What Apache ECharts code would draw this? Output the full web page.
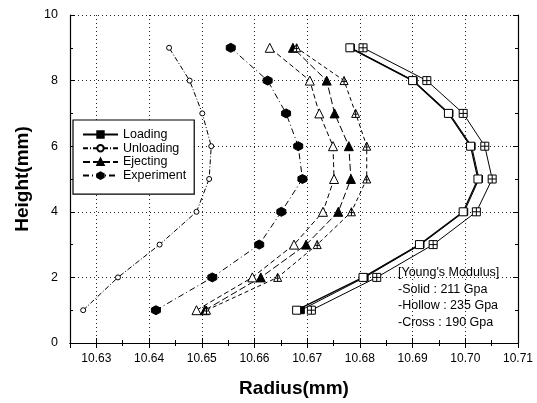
<!DOCTYPE html>
<html>
<head>
<meta charset="utf-8">
<script src="https://cdn.jsdelivr.net/npm/echarts@6/dist/echarts.min.js"></script>
<style>
html,body{margin:0;padding:0;background:#fff;}
#chart{width:537px;height:403px;}
</style>
</head>
<body>
<div id="chart"></div>
<script>
// ---- data ----
var heights = [1, 2, 3, 4, 5, 6, 7, 8, 9];
var unloading   = [10.6275, 10.6341, 10.6420, 10.6490, 10.6514, 10.6518, 10.6501, 10.6477, 10.6438];
var experiment  = [10.6413, 10.6520, 10.6609, 10.6651, 10.6691, 10.6683, 10.6660, 10.6625, 10.6555];
var ejectHollow = [10.6490, 10.6596, 10.6675, 10.6730, 10.6751, 10.6749, 10.6723, 10.6705, 10.6629];
var ejectSolid  = [10.6506, 10.6612, 10.6698, 10.6759, 10.6783, 10.6779, 10.6752, 10.6737, 10.6673];
var ejectCross  = [10.6509, 10.6644, 10.6719, 10.6784, 10.6813, 10.6813, 10.6792, 10.6770, 10.6680];
var loadHollow  = [10.6680, 10.6806, 10.6913, 10.6996, 10.7024, 10.7010, 10.6968, 10.6900, 10.6781];
var loadSolid   = [10.6688, 10.6809, 10.6915, 10.6998, 10.7026, 10.7012, 10.6970, 10.6902, 10.6783];
var loadCross   = [10.6708, 10.6832, 10.6939, 10.7021, 10.7051, 10.7037, 10.6996, 10.6927, 10.6806];
var legendNames = ['Loading', 'Unloading', 'Ejecting', 'Experiment'];
var noteLines = ["[Young's Modulus]", "-Solid : 211 Gpa", "-Hollow : 235 Gpa", "-Cross : 190 Gpa"];

function pts(xs) { return xs.map(function (x, i) { return [x, heights[i]]; }); }

var FONT = 'Liberation Sans, Arial, sans-serif';
var SQ_CROSS = 'path://M0,0 L10,0 L10,10 L0,10 Z M5,0 L5,10 M0,5 L10,5';
var TRI_CROSS = 'path://M5,0 L10,10 L0,10 Z M5,0 L5,10 M2.5,6 L7.5,6';
var HEX = 'path://M5,0 L9.5,2.6 L9.5,7.4 L5,10 L0.5,7.4 L0.5,2.6 Z';

function mk(name, xs, symbol, size, fill, lineType, lw, z) {
  return {
    name: name, type: 'line', data: pts(xs),
    xAxisIndex: 0, yAxisIndex: 0, z: z || 2,
    symbol: symbol, symbolSize: size, showSymbol: true,
    itemStyle: { color: fill, borderColor: '#000', borderWidth: 1 },
    lineStyle: { color: '#000', width: lw || 1, type: lineType },
    emphasis: { disabled: true }, animation: false
  };
}

var chart = echarts.init(document.getElementById('chart'), null, { renderer: 'canvas' });
var option = {
  backgroundColor: '#fff',
  animation: false,
  textStyle: { fontFamily: FONT },
  grid: { left: 70, right: 19, top: 15, bottom: 58, containLabel: false },
  legend: {
    data: legendNames,
    orient: 'vertical', left: 73, top: 120, z: 10,
    backgroundColor: '#fff',
    borderColor: '#000', borderWidth: 1.2,
    padding: [8, 8, 12, 9],
    itemGap: 0.7, itemWidth: 35, itemHeight: 8,
    textStyle: { fontFamily: FONT, fontSize: 12.5, color: '#000', lineHeight: 12 },
    selectedMode: false
  },
  xAxis: [{
    type: 'value', position: 'bottom', min: 10.625, max: 10.71, splitNumber: 9,
    axisLine: { lineStyle: { color: '#000', width: 1.2 } },
    axisTick: { inside: true, length: 5, lineStyle: { color: '#000' } },
    minorTick: { show: true, splitNumber: 2, length: 3, lineStyle: { color: '#000' } },
    axisLabel: { showMinLabel: false, margin: 10, color: '#000', fontSize: 12, fontFamily: FONT,
      formatter: function (v) { return v.toFixed(2); } },
    splitLine: { show: true, lineStyle: { color: '#222', type: [1, 3], width: 1 } },
    name: 'Radius(mm)', nameLocation: 'middle', nameGap: 36,
    nameTextStyle: { fontFamily: FONT, fontWeight: 'bold', fontSize: 19, color: '#000' }
  }, {
    type: 'value', position: 'top', min: 10.625, max: 10.71, splitNumber: 9,
    axisLine: { show: true, lineStyle: { color: '#000', width: 1.2 } },
    axisTick: { show: true, inside: true, length: 5, lineStyle: { color: '#000' } },
    minorTick: { show: true, splitNumber: 2, length: 3, lineStyle: { color: '#000' } },
    axisLabel: { show: false }, splitLine: { show: false }
  }],
  yAxis: [{
    type: 'value', position: 'left', min: 0, max: 10, interval: 2,
    axisLine: { show: true, lineStyle: { color: '#000', width: 1.2 } },
    axisTick: { show: true, inside: true, length: 5, lineStyle: { color: '#000' } },
    minorTick: { show: true, splitNumber: 2, length: 3, lineStyle: { color: '#000' } },
    axisLabel: { margin: 12, color: '#000', fontSize: 12.5, fontFamily: FONT },
    splitLine: { show: true, lineStyle: { color: '#222', type: [1, 3], width: 1 } },
    name: 'Height(mm)', nameLocation: 'middle', nameGap: 38, nameRotate: 90,
    nameTextStyle: { fontFamily: FONT, fontWeight: 'bold', fontSize: 19, color: '#000' }
  }, {
    type: 'value', position: 'right', min: 0, max: 10, interval: 2,
    axisLine: { show: true, lineStyle: { color: '#000', width: 1.2 } },
    axisTick: { show: true, inside: true, length: 5, lineStyle: { color: '#000' } },
    minorTick: { show: true, splitNumber: 2, length: 3, lineStyle: { color: '#000' } },
    axisLabel: { show: false }, splitLine: { show: false }
  }],
  series: [
    mk('Unloading', unloading, 'circle', 5, '#fff', [5, 2, 1, 2], 1),
    mk('Experiment', experiment, HEX, 9, '#000', [6, 3, 1, 3], 1),
    mk('Ejecting (Hollow)', ejectHollow, 'triangle', 9, '#fff', [5, 3], 1),
    mk('Ejecting', ejectSolid, 'triangle', 9, '#000', [7, 3], 1),
    mk('Ejecting (Cross)', ejectCross, TRI_CROSS, 8, '#fff', [4, 3], 1),
    mk('Loading', loadSolid, 'rect', 7, '#000', 'solid', 1, 2),
    mk('Loading (Hollow)', loadHollow, 'rect', 8, '#fff', 'solid', 1.3, 3),
    mk('Loading (Cross)', loadCross, SQ_CROSS, 8, '#fff', 'solid', 1, 3)
  ],
  graphic: noteLines.map(function (t, i) {
    return {
      type: 'text', left: 398, top: 266 + i * 16.7, z: 100,
      style: { text: t, fontFamily: FONT, fontSize: 12.5, fill: '#000' }
    };
  })
};
chart.setOption(option);
</script>
</body>
</html>
